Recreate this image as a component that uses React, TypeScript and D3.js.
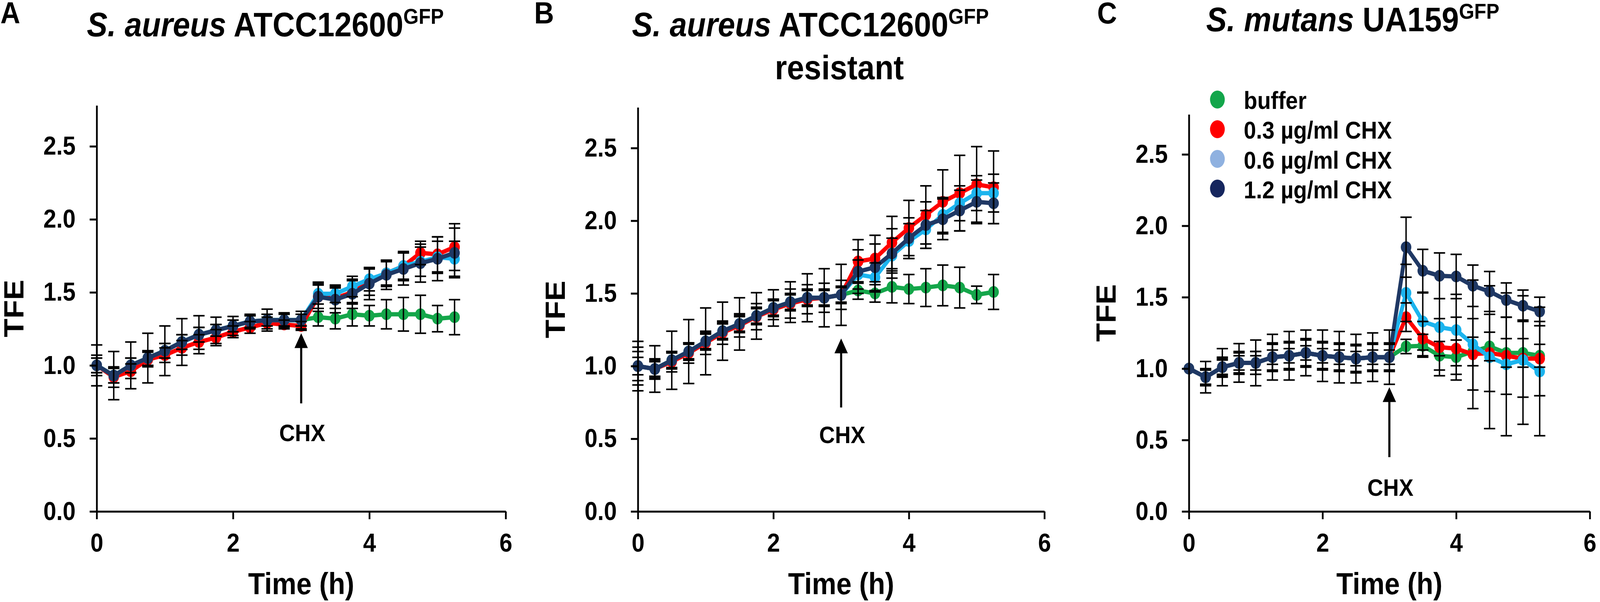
import * as d3 from 'd3'
import { useRef, useEffect } from 'react'

// sampling times (h)
const times = [0, 0.25, 0.5, 0.75, 1, 1.25, 1.5, 1.75, 2, 2.25, 2.5, 2.75, 3, 3.25, 3.5, 3.75, 4, 4.25, 4.5, 4.75, 5, 5.25]

const seriesNames = ['buffer', '0.3 µg/ml CHX', '0.6 µg/ml CHX', '1.2 µg/ml CHX']
const lineColors = ['#14a64a', '#ff0000', '#1cb4ee', '#1f3864']
const legendColors = ['#13a64b', '#ff0000', '#8fb1e0', '#16265e']

const xTicks = [0, 2, 4, 6]
const yTicks = [0, 0.5, 1, 1.5, 2, 2.5]

// panel A - S. aureus ATCC12600
const aBuffer = [1.00, 0.93, 1.00, 1.05, 1.10, 1.16, 1.21, 1.24, 1.27, 1.30, 1.31, 1.31, 1.31, 1.33, 1.32, 1.35, 1.34, 1.35, 1.35, 1.35, 1.32, 1.33]
const aBufferSd = [0.05, 0.05, 0.05, 0.05, 0.05, 0.05, 0.05, 0.04, 0.04, 0.04, 0.04, 0.04, 0.04, 0.06, 0.07, 0.08, 0.07, 0.10, 0.115, 0.13, 0.09, 0.12]
const aLow = [1.00, 0.92, 0.96, 1.04, 1.07, 1.12, 1.16, 1.19, 1.23, 1.26, 1.29, 1.28, 1.27, 1.47, 1.46, 1.50, 1.57, 1.63, 1.68, 1.77, 1.76, 1.81]
const aLowSd = [0.07, 0.07, 0.05, 0.05, 0.05, 0.05, 0.05, 0.055, 0.04, 0.04, 0.04, 0.03, 0.03, 0.08, 0.07, 0.08, 0.09, 0.09, 0.10, 0.08, 0.12, 0.16]
const aMid = [1.00, 0.93, 1.00, 1.05, 1.10, 1.16, 1.21, 1.24, 1.27, 1.30, 1.31, 1.31, 1.31, 1.49, 1.49, 1.54, 1.59, 1.63, 1.68, 1.71, 1.74, 1.73]
const aMidSd = [0.05, 0.05, 0.05, 0.05, 0.05, 0.05, 0.05, 0.04, 0.04, 0.04, 0.04, 0.04, 0.04, 0.07, 0.06, 0.07, 0.08, 0.08, 0.09, 0.10, 0.11, 0.12]
const aHigh = [1.00, 0.93, 1.00, 1.05, 1.10, 1.16, 1.21, 1.24, 1.27, 1.30, 1.31, 1.31, 1.31, 1.47, 1.45, 1.49, 1.56, 1.62, 1.66, 1.70, 1.73, 1.77]
const aHighSd = [0.14, 0.165, 0.16, 0.17, 0.17, 0.16, 0.13, 0.09, 0.065, 0.05, 0.075, 0.05, 0.06, 0.10, 0.09, 0.10, 0.11, 0.10, 0.11, 0.13, 0.15, 0.17]

// panel B - S. aureus ATCC12600 resistant
const bBuffer = [1.00, 0.98, 1.04, 1.10, 1.17, 1.24, 1.29, 1.345, 1.40, 1.44, 1.47, 1.47, 1.49, 1.52, 1.50, 1.545, 1.53, 1.54, 1.555, 1.54, 1.49, 1.51]
const bBufferSd = [0.06, 0.06, 0.06, 0.06, 0.06, 0.06, 0.06, 0.06, 0.06, 0.06, 0.06, 0.06, 0.06, 0.06, 0.06, 0.11, 0.10, 0.13, 0.14, 0.14, 0.06, 0.12]
const bLow = [1.00, 0.98, 1.03, 1.09, 1.16, 1.23, 1.28, 1.34, 1.39, 1.43, 1.46, 1.47, 1.49, 1.72, 1.74, 1.85, 1.95, 2.04, 2.13, 2.19, 2.25, 2.23]
const bLowSd = [0.13, 0.07, 0.07, 0.07, 0.08, 0.08, 0.08, 0.09, 0.07, 0.10, 0.10, 0.10, 0.10, 0.15, 0.16, 0.18, 0.19, 0.20, 0.22, 0.26, 0.26, 0.25]
const bMid = [1.00, 0.98, 1.04, 1.10, 1.17, 1.24, 1.29, 1.345, 1.40, 1.44, 1.47, 1.47, 1.49, 1.63, 1.61, 1.76, 1.86, 1.94, 2.04, 2.12, 2.19, 2.19]
const bMidSd = [0.10, 0.05, 0.05, 0.05, 0.05, 0.05, 0.05, 0.05, 0.05, 0.05, 0.05, 0.05, 0.05, 0.10, 0.10, 0.12, 0.12, 0.13, 0.12, 0.12, 0.12, 0.13]
const bHigh = [1.00, 0.98, 1.04, 1.10, 1.17, 1.24, 1.29, 1.345, 1.40, 1.44, 1.47, 1.47, 1.49, 1.65, 1.68, 1.775, 1.88, 1.97, 2.01, 2.07, 2.13, 2.12]
const bHighSd = [0.17, 0.16, 0.20, 0.22, 0.23, 0.20, 0.18, 0.16, 0.125, 0.14, 0.165, 0.20, 0.21, 0.15, 0.16, 0.17, 0.14, 0.16, 0.14, 0.14, 0.15, 0.14]

// panel C - S. mutans UA159
const cBuffer = [1.00, 0.94, 1.01, 1.04, 1.04, 1.08, 1.09, 1.11, 1.09, 1.08, 1.07, 1.08, 1.08, 1.155, 1.16, 1.09, 1.08, 1.12, 1.155, 1.11, 1.11, 1.09]
const cBufferSd = [0, 0.05, 0.05, 0.05, 0.05, 0.05, 0.05, 0.05, 0.05, 0.05, 0.05, 0.05, 0.05, 0.05, 0.08, 0.10, 0.12, 0.10, 0.10, 0.10, 0.10, 0.08]
const cLow = [1.00, 0.94, 1.01, 1.04, 1.04, 1.08, 1.09, 1.11, 1.09, 1.08, 1.07, 1.08, 1.08, 1.36, 1.21, 1.15, 1.14, 1.10, 1.11, 1.09, 1.07, 1.07]
const cLowSd = [0, 0.06, 0.07, 0.08, 0.08, 0.10, 0.10, 0.10, 0.10, 0.10, 0.10, 0.10, 0.10, 0.10, 0.12, 0.20, 0.22, 0.25, 0.27, 0.27, 0.27, 0.26]
const cMid = [1.00, 0.94, 1.01, 1.04, 1.04, 1.08, 1.09, 1.11, 1.09, 1.08, 1.07, 1.08, 1.08, 1.53, 1.33, 1.29, 1.27, 1.17, 1.08, 1.03, 1.06, 0.98]
const cMidSd = [0, 0.05, 0.06, 0.07, 0.08, 0.09, 0.09, 0.09, 0.09, 0.09, 0.09, 0.09, 0.09, 0.20, 0.20, 0.20, 0.25, 0.45, 0.50, 0.50, 0.45, 0.45]
const cHigh = [1.00, 0.94, 1.01, 1.04, 1.04, 1.08, 1.09, 1.11, 1.09, 1.08, 1.07, 1.08, 1.08, 1.85, 1.685, 1.65, 1.645, 1.58, 1.54, 1.48, 1.44, 1.40]
const cHighSd = [0, 0.11, 0.13, 0.135, 0.16, 0.16, 0.17, 0.16, 0.18, 0.18, 0.17, 0.17, 0.19, 0.21, 0.15, 0.16, 0.155, 0.145, 0.14, 0.12, 0.11, 0.10]

const FONT = '"Liberation Sans", Arial, Helvetica, sans-serif'
const Y0 = 1310

const Panel = (props) => {
  const { x0, x1, yTop, means, sds, arrow } = props

  const xScale = d3.scaleLinear().domain([0, 6]).range([x0, x1])
  const yScale = d3.scaleLinear().domain([0, 2.78]).range([Y0, yTop])

  const xAxis = useRef(null)
  const yAxis = useRef(null)

  useEffect(() => {
    const gx = d3.select(xAxis.current)
    gx.call(d3.axisBottom(xScale).tickValues(xTicks).tickSize(20).tickSizeOuter(0).tickPadding(36).tickFormat(d3.format('d')))
    const gy = d3.select(yAxis.current)
    gy.call(d3.axisLeft(yScale).tickValues(yTicks).tickSize(20).tickSizeOuter(0).tickPadding(40).tickFormat(d3.format('.1f')))
    for (const g of [gx, gy]) {
      g.attr('font-family', FONT).attr('font-size', 66).attr('font-weight', 'bold')
      g.selectAll('path, line').attr('stroke', '#000').attr('stroke-width', 5)
      g.selectAll('text').attr('fill', '#000')
    }
  })

  const line = d3.line().x((d, i) => xScale(times[i])).y(d => yScale(d))

  // drawing order: buffer, low, mid, high (high on top)
  const lines = means.map((vals, s) => (
    <g key={'s' + s}>
      <path d={line(vals)} fill="none" stroke={lineColors[s]} strokeWidth={11} strokeLinejoin="round" />
      {vals.map((v, i) => (
        <circle key={i} cx={xScale(times[i])} cy={yScale(v)} r={15} fill={lineColors[s]} />
      ))}
    </g>
  ))

  const bars = means.map((vals, s) => (
    <g key={'e' + s} stroke="#000" strokeWidth={4}>
      {vals.map((v, i) => {
        const sd = sds[s][i]
        if (!sd) return null
        const cx = xScale(times[i])
        const top = yScale(v + sd)
        const bot = yScale(v - sd)
        return (
          <g key={i}>
            <line x1={cx} x2={cx} y1={top} y2={bot} />
            <line x1={cx - 16} x2={cx + 16} y1={top} y2={top} />
            <line x1={cx - 16} x2={cx + 16} y1={bot} y2={bot} />
          </g>
        )
      })}
    </g>
  ))

  const ax = xScale(3)
  const aTop = yScale(arrow[0])
  const aBot = yScale(arrow[1])

  return (
    <g>
      {lines}
      {bars}
      <g ref={xAxis} transform={`translate(0, ${Y0})`} />
      <g ref={yAxis} transform={`translate(${x0}, 0)`} />
      <line x1={ax} x2={ax} y1={aBot} y2={aTop + 34} stroke="#000" strokeWidth={6} />
      <path d={`M${ax},${aTop} L${ax - 19},${aTop + 38} L${ax + 19},${aTop + 38} Z`} fill="#000" />
      <text x={ax + 3} y={yScale(arrow[2])} textAnchor="middle" fontFamily={FONT} fontWeight="bold" fontSize={62}>CHX</text>
      <text x={(x0 + x1) / 2} y={1522} textAnchor="middle" fontFamily={FONT} fontWeight="bold" fontSize={78}>Time (h)</text>
      <text transform={`translate(${x0 - 208}, ${(Y0 + yTop) / 2}) rotate(-90)`} textAnchor="middle" fontFamily={FONT} fontWeight="bold" fontSize={78}>TFE</text>
    </g>
  )
}

const Title = ({ x, y, species, strain }) => (
  <text x={x} y={y} fontFamily={FONT} fontWeight="bold" fontSize={88}>
    <tspan fontStyle="italic">{species}</tspan>
    <tspan>{' ' + strain}</tspan>
    <tspan fontSize={56} dy={-32}>GFP</tspan>
  </text>
)

const App = () => {
  return (
    <svg viewBox="0 0 4550 1542" preserveAspectRatio="none"
      style={{ position: 'absolute', left: 0, top: 0, width: '100vw', height: '100vh', display: 'block', background: '#fff' }}>
      <rect width={4550} height={1542} fill="#fff" />

      <text x={1} y={60} fontFamily={FONT} fontWeight="bold" fontSize={78}>A</text>
      <Title x={247} y={93} species="S. aureus" strain="ATCC12600" />
      <Panel x0={275} x1={1438} yTop={270}
        means={[aBuffer, aLow, aMid, aHigh]}
        sds={[aBufferSd, aLowSd, aMidSd, aHighSd]}
        arrow={[1.22, 0.74, 0.48]} />

      <text x={1519} y={60} fontFamily={FONT} fontWeight="bold" fontSize={78}>B</text>
      <Title x={1797} y={93} species="S. aureus" strain="ATCC12600" />
      <text x={2387} y={203} textAnchor="middle" fontFamily={FONT} fontWeight="bold" fontSize={88}>resistant</text>
      <Panel x0={1814} x1={2970} yTop={275}
        means={[bBuffer, bLow, bMid, bHigh]}
        sds={[bBufferSd, bLowSd, bMidSd, bHighSd]}
        arrow={[1.19, 0.715, 0.47]} />

      <text x={3120} y={60} fontFamily={FONT} fontWeight="bold" fontSize={78}>C</text>
      <Title x={3430} y={80} species="S. mutans" strain="UA159" />
      <Panel x0={3381} x1={4521} yTop={293}
        means={[cBuffer, cLow, cMid, cHigh]}
        sds={[cBufferSd, cLowSd, cMidSd, cHighSd]}
        arrow={[0.87, 0.38, 0.11]} />

      <g fontFamily={FONT} fontWeight="bold" fontSize={63}>
        {seriesNames.map((name, i) => (
          <g key={name}>
            <ellipse cx={3462} cy={255 + i * 76} rx={21} ry={23} fill={legendColors[i]} />
            <text x={3537} y={279 + i * 76.5}>{name}</text>
          </g>
        ))}
      </g>
    </svg>
  )
}

export default App
